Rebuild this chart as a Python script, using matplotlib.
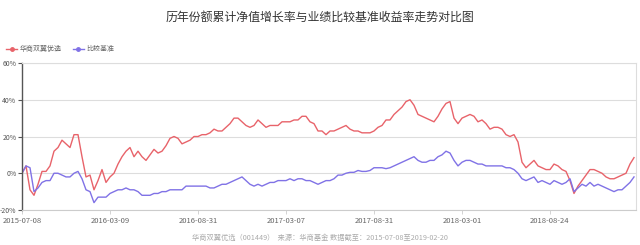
import numpy as np
import matplotlib
matplotlib.use('Agg')
import matplotlib.pyplot as plt
from matplotlib.lines import Line2D

plt.rcParams['font.family'] = ['Noto Sans CJK SC', 'DejaVu Sans']

# Values, one sample every few trading days (%)
fund_name = '华商双翼优选'
bench_name = '比较基准'

fund = [0, 4, -9, -12, -6, 1, 1, 4, 12, 14, 18, 16, 14, 21, 21, 9, -2, -1, -9, -4,
        2, -5, -2, 0, 5, 9, 12, 14, 9, 12, 9, 7, 10, 13, 11, 12, 15, 19, 20, 19,
        16, 17, 18, 20, 20, 21, 21, 22, 24, 23, 23, 25, 27, 30, 30, 28, 26, 25, 26, 29,
        27, 25, 26, 26, 26, 28, 28, 28, 29, 29, 31, 31, 28, 27, 23, 23, 21, 23, 23, 24,
        25, 26, 24, 23, 23, 22, 22, 22, 23, 25, 26, 29, 29, 32, 34, 36, 39, 40, 37, 32,
        31, 30, 29, 28, 31, 35, 38, 39, 30, 27, 30, 31, 32, 31, 28, 29, 27, 24, 25, 25,
        24, 21, 20, 21, 17, 6, 3, 5, 7, 4, 3, 2, 2, 5, 4, 2, 1, -4, -11, -7,
        -4, -1, 2, 2, 1, 0, -2, -3, -3, -2, -1, 0, 5, 8.5]

bench = [0, 4, 3, -10, -8, -5, -4, -4, 0, 0, -1, -2, -2, 0, 1, -3, -9, -10, -16, -13,
         -13, -13, -11, -10, -9, -9, -8, -9, -9, -10, -12, -12, -12, -11, -11, -10, -10, -9, -9, -9,
         -9, -7, -7, -7, -7, -7, -7, -8, -8, -7, -6, -6, -5, -4, -3, -2, -4, -6, -7, -6,
         -7, -6, -5, -5, -4, -4, -4, -3, -4, -3, -3, -4, -4, -5, -6, -5, -4, -4, -3, -1,
         -1, 0, 0.5, 0.5, 1.5, 1, 1, 1.5, 3, 3, 3, 2.5, 3, 4, 5, 6, 7, 8, 9, 7,
         6, 6, 7, 7, 9, 10, 12, 11, 7, 4, 6, 7, 7, 6, 5, 5, 4, 4, 4, 4,
         4, 3, 3, 2, 0, -3, -4, -3, -2, -5, -4, -5, -6, -4, -5, -6, -5, -3, -10, -8,
         -6, -7, -5, -7, -6, -7, -8, -9, -10, -9, -9, -7, -5, -2]

tick_labels = ['2015-07-08', '2016-03-09', '2016-08-31', '2017-03-07',
               '2017-08-31', '2018-03-01', '2018-08-24']
y_ticks = [-20, 0, 20, 40, 60]

red = '#e8636a'
purple = '#8072e6'

fig = plt.figure(figsize=(6.4, 2.45), dpi=100)
ax = fig.add_axes([22 / 640, 1 - 210 / 245, 614 / 640, 147 / 245])

x = np.arange(len(fund))
ax.plot(x, fund, color=red, linewidth=1.0)
ax.plot(x, bench, color=purple, linewidth=1.0)

ax.set_xlim(0, 153.5)
ax.set_ylim(-20, 60)
ax.set_yticks(y_ticks)
ax.set_yticklabels([f'{v}%' for v in y_ticks], fontsize=5, color='#555555')
ax.set_xticks(np.arange(len(tick_labels)) * 22)
ax.set_xticklabels(tick_labels, fontsize=5.5, color='#666666')
ax.tick_params(axis='y', length=3, width=0.8, color='#555555', pad=1)
ax.tick_params(axis='x', length=3, width=0.6, color='#cccccc', pad=2)

ax.grid(axis='y', color='#dddddd', linewidth=0.8)
ax.set_axisbelow(True)
ax.spines['left'].set_color('#555555')
ax.spines['left'].set_linewidth(1.0)
ax.spines['bottom'].set_color('#cccccc')
ax.spines['right'].set_color('#dddddd')
ax.spines['top'].set_color('#dddddd')

fig.text(0.5, 1 - 17 / 245, '历年份额累计净值增长率与业绩比较基准收益率走势对比图',
         ha='center', va='center', fontsize=8.6, color='#333333')

handles = [Line2D([], [], color=red, marker='o', markersize=2.5, linewidth=1),
           Line2D([], [], color=purple, marker='o', markersize=2.5, linewidth=1)]
fig.legend(handles, [fund_name, bench_name], loc='center left',
           bbox_to_anchor=(0.0, 1 - 49 / 245), ncol=2, frameon=False,
           fontsize=5, labelcolor='#666666', handlelength=1.6,
           handletextpad=0.4, columnspacing=1.5)

fig.text(0.5, 1 - 238 / 245,
         '华商双翼优选（001449）  来源：华商基金 数据截至：2015-07-08至2019-02-20',
         ha='center', va='center', fontsize=5.2, color='#aaaaaa')

plt.savefig('out.png', dpi=100)
